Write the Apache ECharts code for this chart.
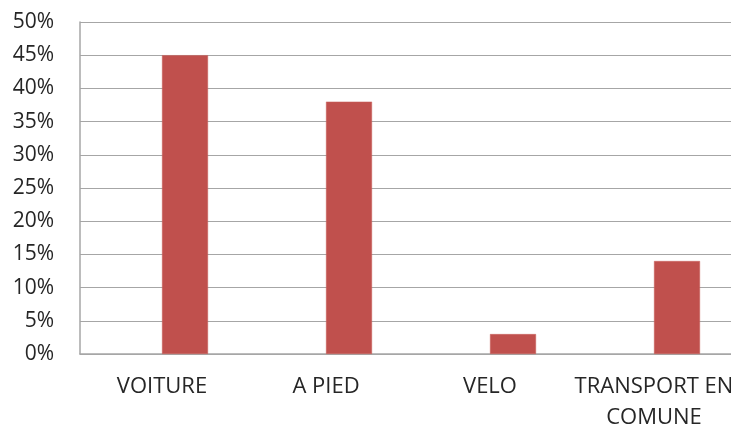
<!DOCTYPE html>
<html>
<head>
<meta charset="utf-8">
<script src="https://cdn.jsdelivr.net/npm/echarts@6/dist/echarts.min.js"></script>
<style>
  html, body { margin: 0; padding: 0; background: #fff; }
  #chart { width: 731px; height: 425px; }
</style>
</head>
<body>
<div id="chart"></div>
<script>
// Mode de déplacement (parts en %)
const categories = ['VOITURE', 'A PIED', 'VELO', 'TRANSPORT EN\nCOMUNE'];
const parts = [45, 38, 3, 14];
// Série vide qui occupe la moitié gauche de chaque catégorie
const serieVide = ['-', '-', '-', '-'];
const yTicks = { min: 0, max: 50, interval: 5 };

const textColor = '#262626';
const lineColor = '#a6a6a6';
const font = '"Open Sans", sans-serif';

const chart = echarts.init(document.getElementById('chart'), null, { renderer: 'canvas' });
chart.setOption({
  animation: false,
  backgroundColor: '#ffffff',
  grid: {
    left: 80, top: 22, width: 656, height: 332,
    containLabel: false, outerBoundsMode: 'none'
  },
  xAxis: {
    type: 'category',
    data: categories,
    axisLine: { show: true, lineStyle: { color: lineColor, width: 1.5 } },
    axisTick: { show: false },
    axisLabel: {
      color: textColor, fontFamily: font, fontSize: 22,
      margin: 17, lineHeight: 31, interval: 0, hideOverlap: false
    },
    splitLine: { show: false }
  },
  yAxis: {
    type: 'value',
    min: yTicks.min, max: yTicks.max, interval: yTicks.interval,
    axisLine: { show: true, lineStyle: { color: lineColor, width: 1.5 } },
    axisTick: { show: false },
    axisLabel: {
      color: textColor, fontFamily: font, fontSize: 21, margin: 26,
      formatter: v => v + '%'
    },
    splitLine: { show: true, lineStyle: { color: lineColor, width: 1 } }
  },
  series: [
    { type: 'bar', name: 'vide', data: serieVide, barWidth: 46, barGap: '0%', silent: true },
    { type: 'bar', name: 'Part', data: parts, barWidth: 46, barGap: '0%',
      itemStyle: { color: '#c0504d', borderColor: '#c8605d', borderWidth: 0.5 } }
  ]
});
</script>
</body>
</html>
